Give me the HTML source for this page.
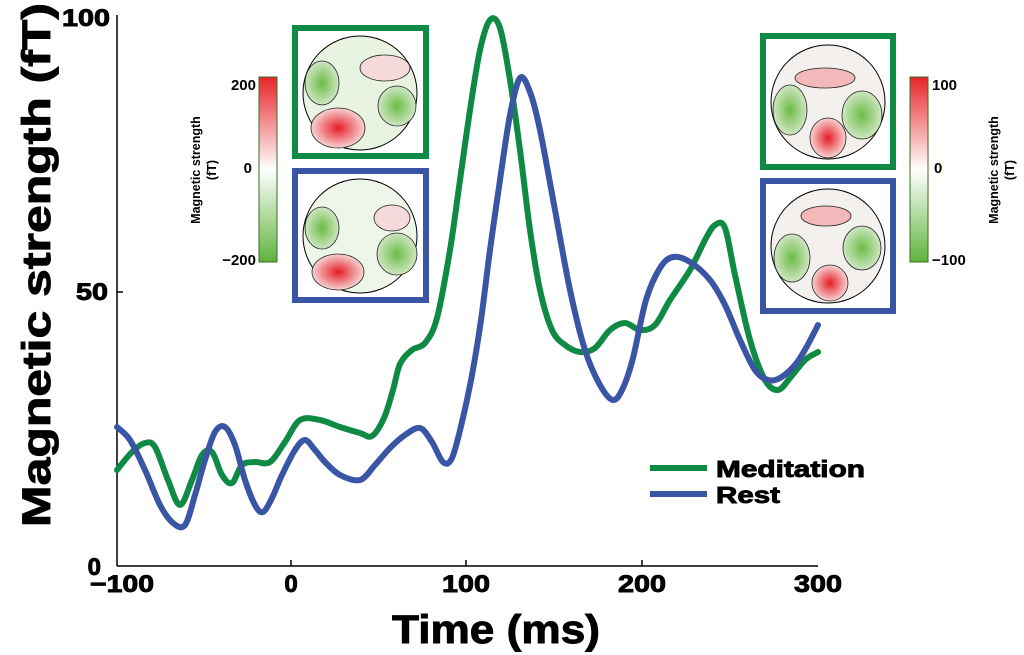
<!DOCTYPE html>
<html><head><meta charset="utf-8"><style>
body{margin:0;background:#fff}
svg{display:block;font-family:"Liberation Sans",Arial,sans-serif;font-weight:bold}
.h{stroke:#000;stroke-width:0.9}
</style></head><body>
<svg width="1024" height="655" viewBox="0 0 1024 655" xmlns="http://www.w3.org/2000/svg">
<defs>
<linearGradient id="cb" x1="0" y1="0" x2="0" y2="1">
<stop offset="0" stop-color="#e8232a"/><stop offset="0.5" stop-color="#ffffff"/><stop offset="1" stop-color="#5fb33c"/>
</linearGradient>
<radialGradient id="rd"><stop offset="0" stop-color="#e51d25"/><stop offset="1" stop-color="#f7d3d3"/></radialGradient>
<radialGradient id="gr"><stop offset="0" stop-color="#6cbb46"/><stop offset="1" stop-color="#cfe6c3"/></radialGradient>
</defs>
<line x1="117" y1="15" x2="117" y2="566" stroke="#000" stroke-width="1.5"/>
<line x1="117" y1="566" x2="818" y2="566" stroke="#000" stroke-width="1.5"/>
<g stroke="#000" stroke-width="1.5">
<line x1="291" y1="566" x2="291" y2="560"/><line x1="466" y1="566" x2="466" y2="560"/><line x1="642" y1="566" x2="642" y2="560"/>
<line x1="117" y1="292" x2="123" y2="292"/>
</g>
<g font-size="24" text-anchor="middle" class="h">
<text x="122" y="592" textLength="64" lengthAdjust="spacingAndGlyphs">−100</text><text x="291" y="592">0</text><text x="466" y="592" textLength="48" lengthAdjust="spacingAndGlyphs">100</text><text x="642" y="592" textLength="48" lengthAdjust="spacingAndGlyphs">200</text><text x="818" y="592" textLength="48" lengthAdjust="spacingAndGlyphs">300</text>
</g>
<g font-size="24" text-anchor="end" class="h">
<text x="110" y="26" textLength="48" lengthAdjust="spacingAndGlyphs">100</text><text x="108" y="300" textLength="32" lengthAdjust="spacingAndGlyphs">50</text><text x="101" y="575">0</text>
</g>
<text x="496" y="643" font-size="40" text-anchor="middle" class="h" stroke-width="1.5" textLength="208" lengthAdjust="spacingAndGlyphs">Time (ms)</text>
<text transform="translate(50,265) rotate(-90)" font-size="40" text-anchor="middle" class="h" stroke-width="1.5" textLength="524" lengthAdjust="spacingAndGlyphs">Magnetic strength (fT)</text>

<path id="g1" fill="none" stroke="#0f8a45" stroke-width="6" stroke-linejoin="round" stroke-linecap="round"/>
<path id="b1" fill="none" stroke="#3a55a4" stroke-width="6" stroke-linejoin="round" stroke-linecap="round"/>

<line x1="650" y1="468" x2="707" y2="468" stroke="#0f8a45" stroke-width="6"/>
<line x1="650" y1="494" x2="707" y2="494" stroke="#3a55a4" stroke-width="6"/>
<text x="716" y="477" font-size="23" class="h" textLength="149" lengthAdjust="spacingAndGlyphs">Meditation</text>
<text x="716" y="503" font-size="23" class="h" textLength="64" lengthAdjust="spacingAndGlyphs">Rest</text>

<rect x="259" y="77" width="18" height="185" fill="url(#cb)" stroke="#3a6b2a" stroke-width="1"/>
<g font-size="15" text-anchor="end"><text x="256" y="90">200</text><text x="252" y="173">0</text><text x="256" y="265">−200</text></g>
<text transform="translate(200,170) rotate(-90)" font-size="12.5" text-anchor="middle">Magnetic strength</text>
<text transform="translate(216,170) rotate(-90)" font-size="12.5" text-anchor="middle">(fT)</text>
<rect x="910" y="77" width="18" height="185" fill="url(#cb)" stroke="#3a6b2a" stroke-width="1"/>
<g font-size="15"><text x="932" y="90">100</text><text x="934" y="173">0</text><text x="932" y="265">−100</text></g>
<text transform="translate(998,170) rotate(-90)" font-size="12.5" text-anchor="middle">Magnetic strength</text>
<text transform="translate(1014,170) rotate(-90)" font-size="12.5" text-anchor="middle">(fT)</text>

<g>
<rect x="295" y="28" width="131" height="128" fill="#fff" stroke="#0f8a45" stroke-width="6"/>
<circle cx="360" cy="93" r="57" fill="#e8f3e2" stroke="#000" stroke-width="1"/>
<ellipse cx="322" cy="83" rx="17" ry="22" fill="url(#gr)" stroke="#222" stroke-width="0.8"/>
<ellipse cx="397" cy="106" rx="19" ry="20" fill="url(#gr)" stroke="#222" stroke-width="0.8"/>
<ellipse cx="385" cy="68" rx="25" ry="13" fill="#f6d9da" stroke="#222" stroke-width="0.8"/>
<ellipse cx="338" cy="128" rx="27" ry="20" fill="url(#rd)" stroke="#222" stroke-width="0.8"/>
</g>
<g>
<rect x="295" y="171" width="131" height="129" fill="#fff" stroke="#3a55a4" stroke-width="6"/>
<circle cx="360" cy="236" r="57" fill="#eef6ea" stroke="#000" stroke-width="1"/>
<ellipse cx="322" cy="228" rx="17" ry="21" fill="url(#gr)" stroke="#222" stroke-width="0.8"/>
<ellipse cx="397" cy="254" rx="20" ry="21" fill="url(#gr)" stroke="#222" stroke-width="0.8"/>
<ellipse cx="392" cy="218" rx="18" ry="13" fill="#f6d9da" stroke="#222" stroke-width="0.8"/>
<ellipse cx="338" cy="272" rx="26" ry="18" fill="url(#rd)" stroke="#222" stroke-width="0.8"/>
</g>
<g>
<rect x="763" y="36" width="130" height="131" fill="#fff" stroke="#0f8a45" stroke-width="6"/>
<circle cx="828" cy="102" r="57" fill="#f3f0ee" stroke="#000" stroke-width="1"/>
<ellipse cx="790" cy="110" rx="17" ry="25" fill="url(#gr)" stroke="#222" stroke-width="0.8"/>
<ellipse cx="862" cy="115" rx="20" ry="24" fill="url(#gr)" stroke="#222" stroke-width="0.8"/>
<ellipse cx="825" cy="78" rx="30" ry="10" fill="#f3b8ba" stroke="#222" stroke-width="0.8"/>
<ellipse cx="828" cy="138" rx="18" ry="20" fill="url(#rd)" stroke="#222" stroke-width="0.8"/>
</g>
<g>
<rect x="763" y="181" width="130" height="130" fill="#fff" stroke="#3a55a4" stroke-width="6"/>
<circle cx="828" cy="246" r="57" fill="#f3f0ee" stroke="#000" stroke-width="1"/>
<ellipse cx="792" cy="258" rx="18" ry="24" fill="url(#gr)" stroke="#222" stroke-width="0.8"/>
<ellipse cx="862" cy="248" rx="19" ry="22" fill="url(#gr)" stroke="#222" stroke-width="0.8"/>
<ellipse cx="826" cy="216" rx="25" ry="10" fill="#f3b8ba" stroke="#222" stroke-width="0.8"/>
<ellipse cx="830" cy="283" rx="18" ry="18" fill="url(#rd)" stroke="#222" stroke-width="0.8"/>
</g>
</svg>
<script>
function sm(s){var p=s.trim().split(/\s+/).map(function(t){return t.split(',').map(Number)});
var d='M'+p[0][0]+','+p[0][1];
for(var i=0;i<p.length-1;i++){var a=p[i-1]||p[i],b=p[i],c=p[i+1],e=p[i+2]||c;
d+=' C'+(b[0]+(c[0]-a[0])/6)+','+(b[1]+(c[1]-a[1])/6)+' '+(c[0]-(e[0]-b[0])/6)+','+(c[1]-(e[1]-b[1])/6)+' '+c[0]+','+c[1];}
return d;}
document.getElementById('g1').setAttribute('d',sm("117,470 132,452 145,443 155,447 168,480 180,505 192,480 202,455 212,452 222,475 232,483 242,465 255,462 270,462 285,442 300,420 320,420 340,427 360,433 372,436 384,418 393,390 400,364 412,350 425,343 437,318 450,250 460,180 470,110 480,50 490,20 500,28 510,80 520,150 530,230 540,290 552,330 565,345 580,352 595,348 610,330 625,323 640,330 655,325 670,300 690,270 705,240 715,225 725,228 735,275 750,340 765,380 778,390 790,378 805,360 818,352"));
document.getElementById('b1').setAttribute('d',sm("117,427 130,440 145,470 160,505 173,523 185,525 195,495 205,460 215,432 225,427 235,445 245,480 255,505 263,512 272,498 282,475 295,450 305,440 315,450 325,462 340,475 360,480 375,465 390,448 405,435 420,428 432,442 443,462 452,458 462,422 472,375 481,320 490,250 500,180 510,115 520,78 530,92 540,130 555,210 570,290 585,350 600,385 613,400 623,388 633,358 646,300 660,268 673,257 690,262 710,280 725,305 740,340 755,370 768,380 780,378 795,365 806,348 818,325"));
</script>
</body></html>
